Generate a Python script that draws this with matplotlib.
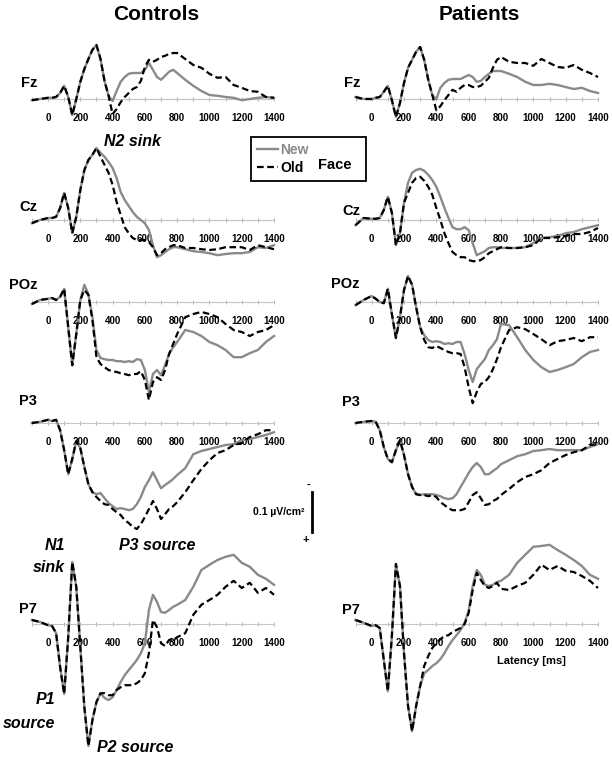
import matplotlib
matplotlib.use("Agg")
import matplotlib.pyplot as plt
from matplotlib.lines import Line2D

plt.rcParams['font.family'] = ['Liberation Sans', 'DejaVu Sans']
NARROW = ['Liberation Sans Narrow', 'Liberation Sans', 'DejaVu Sans']

# latency grid (ms)
latency = [-100, -50, 0,
           25, 50, 75, 100, 125, 150, 175, 200,
           225, 250, 275, 300, 325, 350, 375, 400,
           425, 450, 475, 500, 525, 550, 575, 600,
           625, 650, 675, 700, 725, 750, 775, 800,
           850, 900, 950, 1000, 1050, 1100, 1150, 1200, 1250, 1300, 1350, 1400]

# CSD amplitudes in uV/cm^2 (sinks negative, drawn upwards)
fz_ctrl_new = [0.003, 0, -0.003,
               -0.003, -0.005, -0.015, -0.033, -0.005, 0.040, 0, -0.043,
               -0.075, -0.100, -0.123, -0.135, -0.100, -0.045, -0.008, 0.005,
               -0.020, -0.043, -0.055, -0.063, -0.065, -0.065, -0.065, -0.073,
               -0.090, -0.073, -0.055, -0.048, -0.058, -0.068, -0.073, -0.065,
               -0.048, -0.033, -0.020, -0.010, -0.008, -0.005, -0.003, 0.003, 0, -0.003, -0.005, -0.003]
fz_ctrl_old = [0.003, 0, -0.003,
               -0.003, -0.005, -0.015, -0.033, -0.005, 0.040, 0, -0.043,
               -0.075, -0.100, -0.123, -0.135, -0.100, -0.045, -0.008, 0.038,
               0.025, 0.008, -0.005, -0.015, -0.025, -0.030, -0.045, -0.080,
               -0.098, -0.093, -0.098, -0.105, -0.108, -0.113, -0.115, -0.115,
               -0.100, -0.085, -0.078, -0.063, -0.053, -0.055, -0.035, -0.028, -0.020, -0.018, -0.005, -0.003]
fz_pat_new = [-0.005, 0, 0,
              -0.003, -0.005, -0.018, -0.033, 0.003, 0.045, 0.010, -0.040,
              -0.078, -0.098, -0.118, -0.130, -0.098, -0.048, -0.010, 0,
              -0.028, -0.040, -0.048, -0.050, -0.050, -0.050, -0.055, -0.060,
              -0.055, -0.043, -0.045, -0.055, -0.063, -0.070, -0.070, -0.070,
              -0.063, -0.055, -0.043, -0.035, -0.035, -0.038, -0.035, -0.030, -0.025, -0.028, -0.020, -0.015]
fz_pat_old = [-0.005, 0, 0,
              -0.003, -0.005, -0.018, -0.033, 0.003, 0.045, 0.010, -0.040,
              -0.078, -0.098, -0.118, -0.130, -0.098, -0.048, -0.010, 0.028,
              0.018, 0.003, -0.010, -0.023, -0.018, -0.028, -0.035, -0.035,
              -0.030, -0.030, -0.033, -0.043, -0.053, -0.078, -0.098, -0.105,
              -0.093, -0.090, -0.090, -0.083, -0.100, -0.090, -0.080, -0.078, -0.085, -0.073, -0.065, -0.055]

cz_ctrl_new = [0.008, 0, -0.005,
               -0.005, -0.008, -0.030, -0.068, -0.030, 0.033, -0.008, -0.075,
               -0.125, -0.150, -0.163, -0.180, -0.168, -0.158, -0.145, -0.130,
               -0.105, -0.070, -0.050, -0.035, -0.020, -0.008, 0, 0.008,
               0.025, 0.063, 0.093, 0.088, 0.080, 0.073, 0.068, 0.068,
               0.073, 0.078, 0.080, 0.083, 0.088, 0.085, 0.083, 0.083, 0.080, 0.068, 0.070, 0.063]
cz_ctrl_old = [0.008, 0, -0.005,
               -0.005, -0.008, -0.030, -0.068, -0.030, 0.033, -0.008, -0.075,
               -0.125, -0.150, -0.163, -0.180, -0.158, -0.138, -0.118, -0.088,
               -0.045, -0.013, 0.018, 0.033, 0.045, 0.050, 0.050, 0.050,
               0.055, 0.068, 0.088, 0.083, 0.073, 0.068, 0.063, 0.063,
               0.070, 0.070, 0.073, 0.075, 0.073, 0.068, 0.068, 0.068, 0.075, 0.063, 0.068, 0.073]
cz_pat_new = [0.013, -0.005, -0.003,
              -0.003, -0.005, -0.025, -0.058, -0.018, 0.063, 0.033, -0.043,
              -0.093, -0.118, -0.125, -0.128, -0.123, -0.113, -0.100, -0.083,
              -0.058, -0.030, -0.005, 0.018, 0.023, 0.023, 0.018, 0.025,
              0.058, 0.088, 0.083, 0.078, 0.070, 0.068, 0.068, 0.070,
              0.070, 0.070, 0.068, 0.058, 0.045, 0.043, 0.040, 0.033, 0.030, 0.023, 0.018, 0.013]
cz_pat_old = [0.013, -0.005, -0.003,
              -0.003, -0.005, -0.025, -0.058, -0.018, 0.063, 0.033, -0.043,
              -0.068, -0.093, -0.105, -0.108, -0.098, -0.083, -0.063, -0.030,
              0, 0.033, 0.058, 0.080, 0.088, 0.093, 0.093, 0.100,
              0.103, 0.103, 0.100, 0.093, 0.083, 0.078, 0.073, 0.068,
              0.070, 0.070, 0.068, 0.063, 0.045, 0.045, 0.043, 0.040, 0.035, 0.035, 0.030, 0.020]

poz_ctrl_new = [0.005, -0.005, -0.008,
                -0.010, -0.005, -0.013, -0.033, 0.063, 0.158, 0.080, -0.005,
                -0.043, -0.020, 0.038, 0.120, 0.140, 0.143, 0.145, 0.145,
                0.148, 0.148, 0.150, 0.148, 0.150, 0.143, 0.145, 0.170,
                0.225, 0.180, 0.170, 0.183, 0.158, 0.130, 0.113, 0.100,
                0.070, 0.075, 0.085, 0.100, 0.108, 0.120, 0.138, 0.138, 0.128, 0.120, 0.100, 0.085]
poz_ctrl_old = [0.005, -0.005, -0.008,
                -0.010, -0.005, -0.013, -0.033, 0.063, 0.158, 0.080, -0.005,
                -0.030, -0.018, 0.045, 0.138, 0.155, 0.163, 0.170, 0.173,
                0.175, 0.178, 0.180, 0.183, 0.180, 0.180, 0.173, 0.195,
                0.245, 0.200, 0.188, 0.195, 0.170, 0.130, 0.105, 0.080,
                0.038, 0.030, 0.025, 0.030, 0.038, 0.055, 0.070, 0.075, 0.085, 0.075, 0.070, 0.058]
poz_pat_new = [0.008, -0.005, -0.015,
               -0.008, 0, 0.003, -0.033, 0.030, 0.090, 0.038, -0.030,
               -0.065, -0.043, 0.013, 0.063, 0.083, 0.095, 0.100, 0.098,
               0.100, 0.105, 0.103, 0.105, 0.100, 0.100, 0.130, 0.170,
               0.200, 0.168, 0.155, 0.143, 0.120, 0.108, 0.093, 0.055,
               0.058, 0.088, 0.120, 0.145, 0.163, 0.175, 0.170, 0.163, 0.155, 0.138, 0.125, 0.120]
poz_pat_old = [0.008, -0.005, -0.015,
               -0.008, 0, 0.003, -0.033, 0.030, 0.090, 0.038, -0.030,
               -0.065, -0.043, 0.013, 0.063, 0.095, 0.113, 0.115, 0.110,
               0.115, 0.120, 0.125, 0.128, 0.128, 0.130, 0.163, 0.213,
               0.253, 0.225, 0.205, 0.200, 0.188, 0.168, 0.143, 0.113,
               0.070, 0.063, 0.068, 0.080, 0.093, 0.108, 0.098, 0.095, 0.090, 0.098, 0.088, 0.088]

p3_ctrl_new = [0, -0.003, -0.008,
               -0.005, -0.008, 0.018, 0.068, 0.128, 0.090, 0.045, 0.063,
               0.110, 0.153, 0.173, 0.178, 0.175, 0.188, 0.200, 0.208,
               0.215, 0.213, 0.215, 0.218, 0.215, 0.203, 0.185, 0.160,
               0.143, 0.123, 0.143, 0.163, 0.155, 0.148, 0.140, 0.130,
               0.113, 0.078, 0.070, 0.065, 0.060, 0.055, 0.053, 0.043, 0.040, 0.035, 0.030, 0.023]
p3_ctrl_old = [0, -0.003, -0.008,
               -0.005, -0.008, 0.018, 0.068, 0.128, 0.090, 0.045, 0.063,
               0.110, 0.153, 0.173, 0.185, 0.195, 0.203, 0.205, 0.215,
               0.223, 0.230, 0.243, 0.250, 0.260, 0.265, 0.253, 0.235,
               0.215, 0.195, 0.215, 0.240, 0.228, 0.215, 0.208, 0.198,
               0.173, 0.143, 0.115, 0.093, 0.075, 0.068, 0.055, 0.050, 0.035, 0.028, 0.018, 0.018]
p3_pat_new = [0, -0.003, -0.005,
              -0.003, 0.018, 0.060, 0.090, 0.098, 0.068, 0.043, 0.080,
              0.128, 0.160, 0.178, 0.180, 0.178, 0.178, 0.178, 0.180,
              0.183, 0.188, 0.190, 0.188, 0.178, 0.160, 0.143, 0.125,
              0.110, 0.100, 0.110, 0.128, 0.128, 0.120, 0.113, 0.103,
              0.093, 0.083, 0.078, 0.070, 0.068, 0.065, 0.068, 0.068, 0.068, 0.068, 0.060, 0.053]
p3_pat_old = [0, -0.003, -0.005,
              -0.003, 0.018, 0.060, 0.090, 0.098, 0.068, 0.043, 0.080,
              0.128, 0.160, 0.178, 0.180, 0.180, 0.183, 0.180, 0.185,
              0.198, 0.205, 0.213, 0.218, 0.218, 0.218, 0.215, 0.198,
              0.180, 0.173, 0.188, 0.205, 0.203, 0.195, 0.190, 0.180,
              0.165, 0.148, 0.135, 0.128, 0.118, 0.100, 0.090, 0.080, 0.073, 0.068, 0.055, 0.053]

p7_ctrl_new = [-0.010, -0.005, 0.003,
               0.005, 0.023, 0.108, 0.175, 0.033, -0.155, -0.093, 0.058,
               0.208, 0.305, 0.240, 0.195, 0.173, 0.185, 0.190, 0.183,
               0.165, 0.145, 0.128, 0.115, 0.103, 0.090, 0.073, 0.048,
               -0.035, -0.073, -0.055, -0.030, -0.028, -0.035, -0.043, -0.048,
               -0.060, -0.093, -0.135, -0.148, -0.160, -0.168, -0.173, -0.153, -0.143, -0.123, -0.113, -0.098]
p7_ctrl_old = [-0.010, -0.005, 0.003,
               0.005, 0.023, 0.108, 0.175, 0.033, -0.155, -0.093, 0.058,
               0.208, 0.305, 0.240, 0.195, 0.173, 0.173, 0.178, 0.178,
               0.165, 0.158, 0.153, 0.153, 0.153, 0.148, 0.140, 0.123,
               0.073, -0.010, 0.008, 0.048, 0.055, 0.040, 0.040, 0.033,
               0.023, -0.023, -0.048, -0.060, -0.073, -0.093, -0.108, -0.090, -0.103, -0.078, -0.090, -0.073]
p7_pat_new = [-0.010, -0.003, 0.005,
              0.003, 0.010, 0.090, 0.168, 0.030, -0.150, -0.095, 0.073,
              0.205, 0.268, 0.205, 0.155, 0.123, 0.115, 0.105, 0.098,
              0.088, 0.073, 0.055, 0.040, 0.028, 0.015, -0.003, -0.033,
              -0.095, -0.135, -0.123, -0.098, -0.095, -0.098, -0.105, -0.108,
              -0.123, -0.153, -0.173, -0.193, -0.195, -0.198, -0.185, -0.173, -0.160, -0.145, -0.123, -0.113]
p7_pat_old = [-0.010, -0.003, 0.005,
              0.003, 0.010, 0.090, 0.168, 0.030, -0.150, -0.095, 0.073,
              0.205, 0.268, 0.205, 0.155, 0.105, 0.080, 0.060, 0.048,
              0.038, 0.030, 0.028, 0.020, 0.015, 0.010, 0, -0.028,
              -0.085, -0.128, -0.110, -0.095, -0.090, -0.095, -0.103, -0.088,
              -0.085, -0.095, -0.103, -0.123, -0.148, -0.135, -0.145, -0.133, -0.130, -0.120, -0.108, -0.090]

channels = ['Fz', 'Cz', 'POz', 'P3', 'P7']
groups = ['Controls', 'Patients']
waves = {
    ('Fz', 'Controls'): (fz_ctrl_new, fz_ctrl_old), ('Fz', 'Patients'): (fz_pat_new, fz_pat_old),
    ('Cz', 'Controls'): (cz_ctrl_new, cz_ctrl_old), ('Cz', 'Patients'): (cz_pat_new, cz_pat_old),
    ('POz', 'Controls'): (poz_ctrl_new, poz_ctrl_old), ('POz', 'Patients'): (poz_pat_new, poz_pat_old),
    ('P3', 'Controls'): (p3_ctrl_new, p3_ctrl_old), ('P3', 'Patients'): (p3_pat_new, p3_pat_old),
    ('P7', 'Controls'): (p7_ctrl_new, p7_ctrl_old), ('P7', 'Patients'): (p7_pat_new, p7_pat_old),
}

# ---- layout (pixels) ----
W, H = 612, 761
PX_PER_UNIT = 400.0          # 0.1 uV/cm^2 -> 40 px
HALF = 130                   # half height of each panel, px
col_x = {'Controls': (31.9, 274.0), 'Patients': (355.5, 598.0)}
row_zero = {'Fz': 99, 'Cz': 220, 'POz': 302, 'P3': 423, 'P7': 624}
label_pos = {'Controls': {'Fz': 83, 'Cz': 207, 'POz': 285, 'P3': 401, 'P7': 609},
             'Patients': {'Fz': 83, 'Cz': 211, 'POz': 284, 'P3': 402, 'P7': 610}}
label_right = {'Controls': 37, 'Patients': 360}

GRAY = '#8a8a8a'
DASH = (0, (3.0, 1.6))

fig = plt.figure(figsize=(W / 100, H / 100), dpi=100)


def ftext(x, y, s, **kw):
    return fig.text(x / W, 1 - y / H, s, **kw)


axes = {}
for g in groups:
    x0, x1 = col_x[g]
    for ch in channels:
        y0 = row_zero[ch]
        ax = fig.add_axes([x0 / W, 1 - (y0 + HALF) / H, (x1 - x0) / W, 2 * HALF / H])
        ax.set_xlim(-100, 1400)
        ax.set_ylim(HALF / PX_PER_UNIT, -HALF / PX_PER_UNIT)
        ax.patch.set_visible(False)
        for s in ['top', 'right', 'left']:
            ax.spines[s].set_visible(False)
        ax.spines['bottom'].set_position(('data', 0))
        ax.spines['bottom'].set_color('#c4c4c4')
        ax.spines['bottom'].set_linewidth(0.8)
        ax.set_yticks([])
        ax.set_xticks(range(0, 1401, 200))
        ax.set_xticks(range(-100, 1401, 100), minor=True)
        ax.tick_params(axis='x', which='both', direction='inout', length=3.5, width=0.7,
                       color='#b0b0b0', pad=8.5)
        for lab in ax.get_xticklabels():
            lab.set_fontsize(7)
            lab.set_fontweight('bold')
            lab.set_family(NARROW)
        new, old = waves[(ch, g)]
        ax.plot(latency, new, color=GRAY, lw=1.7, clip_on=False, zorder=3)
        ax.plot(latency, old, color='black', lw=1.6, ls=DASH, clip_on=False, zorder=4)
        axes[(ch, g)] = ax
        ftext(label_right[g], label_pos[g][ch], ch, ha='right', va='center',
              fontsize=10.5, fontweight='bold')

# column titles
ftext(156, 15, 'Controls', ha='center', va='center', fontsize=15, fontweight='bold')
ftext(479, 15, 'Patients', ha='center', va='center', fontsize=15, fontweight='bold')

# legend
handles = [Line2D([], [], color=GRAY, lw=1.7), Line2D([], [], color='black', lw=1.6, ls=DASH)]
leg = fig.legend(handles, ['New', 'Old'], loc='upper left',
                 bbox_to_anchor=(251 / W, 1 - 179 / H, 115 / W, 42 / H), mode='expand',
                 borderaxespad=0, borderpad=0.45, labelspacing=0.25, handlelength=1.5,
                 handletextpad=0.15, fancybox=False, framealpha=1, edgecolor='black',
                 prop={'weight': 'bold', 'size': 10})
leg.get_frame().set_linewidth(1.3)
leg.get_texts()[0].set_color(GRAY)
ftext(335, 165, 'Face', ha='center', va='center', fontsize=10.5, fontweight='bold', zorder=10)

# scale bar (0.1 uV/cm^2) drawn in P3 controls data units
ax = axes[('P3', 'Controls')]
bar_x, bar_top = 1635, 0.172
ax.plot([bar_x, bar_x], [bar_top, bar_top + 0.1], color='black', lw=2.0, clip_on=False)
ax.text(bar_x - 20, bar_top - 0.018, '-', ha='center', va='center', fontsize=8, fontweight='bold')
ax.text(bar_x - 35, bar_top + 0.12, '+', ha='center', va='center', fontsize=8, fontweight='bold')
ax.text(bar_x - 45, bar_top + 0.05, '0.1 µV/cm²', ha='right', va='center',
        fontsize=7.5, fontweight='bold')

# component annotations
ann = dict(fontsize=11.5, fontweight='bold', fontstyle='italic')
ftext(132, 141, 'N2 sink', ha='center', va='center', **ann)
ftext(157, 546, 'P3 source', ha='center', va='center', **ann)
ftext(65, 545, 'N1', ha='right', va='center', **ann)
ftext(65, 567, 'sink', ha='right', va='center', **ann)
ftext(55, 700, 'P1', ha='right', va='center', **ann)
ftext(55, 723, 'source', ha='right', va='center', **ann)
ftext(135, 748, 'P2 source', ha='center', va='center', **ann)

ftext(531, 661, 'Latency [ms]', ha='center', va='center', fontsize=8, fontweight='bold',
      family=NARROW)

fig.savefig('out.png', dpi=100)
